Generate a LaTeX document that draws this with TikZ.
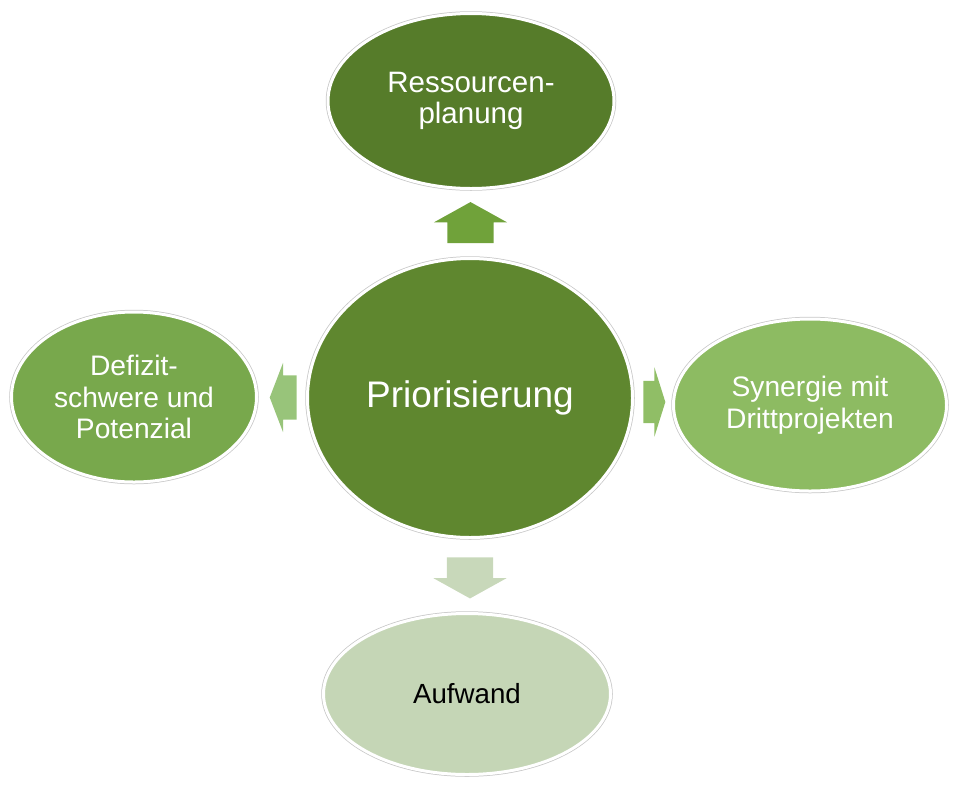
\documentclass[tikz,border=0pt]{standalone}
\usepackage{fontspec}
\setmainfont{Liberation Sans}
\usetikzlibrary{shapes.geometric,shapes.arrows}

\definecolor{coreGreen}{RGB}{95,135,47}
\definecolor{topGreen}{RGB}{86,124,42}
\definecolor{leftGreen}{RGB}{120,168,76}
\definecolor{rightGreen}{RGB}{141,187,98}
\definecolor{lowGreen}{RGB}{197,214,182}
\definecolor{upArrow}{RGB}{112,162,58}
\definecolor{leftArrow}{RGB}{152,196,122}
\definecolor{rightArrow}{RGB}{144,190,102}
\definecolor{downArrow}{RGB}{200,216,186}

\def\txt{\fontsize{29.5}{31.5}\selectfont}
\def\smalltxt{\fontsize{28.2}{31.5}\selectfont}

\begin{document}
\begin{tikzpicture}[x=1pt,y=-1pt]
    \tikzstyle{blob}=[ellipse,inner sep=0pt,align=center,text=white,font=\txt,
        draw=white,line width=3pt,preaction={draw=black!22,line width=4.5pt}]
    \tikzstyle{flow}=[single arrow,draw=none,single arrow head extend=13.5pt]
    \tikzstyle{vflow}=[flow,inner xsep=23pt,inner ysep=0pt,minimum height=41pt,
        single arrow tip angle=122]
    \tikzstyle{hflow}=[flow,inner xsep=0pt,inner ysep=22pt]

    \useasboundingbox (0,0) rectangle (960,785);

    % Draw the centre node.
    \node[blob,fill=coreGreen,minimum width=325pt,minimum height=279pt,
        font=\fontsize{37}{40}\selectfont] (prio) at (470,398) {Priorisierung};

    % Draw the outer nodes.
    \node[blob,fill=topGreen,minimum width=286pt,minimum height=175pt]
        (res) at (471,101) {Ressourcen-\\planung};
    \node[blob,fill=leftGreen,minimum width=245pt,minimum height=170pt,font=\smalltxt]
        (def) at (134,397) {Defizit-\\schwere und\\Potenzial};
    \node[blob,fill=rightGreen,minimum width=273pt,minimum height=172pt,font=\smalltxt]
        (syn) at (810,405) {Synergie mit\\Drittprojekten};
    \node[blob,fill=lowGreen,minimum width=287pt,minimum height=161pt,text=black,
        font=\fontsize{27.7}{31}\selectfont] (auf) at (467,694) {Aufwand};

    % Draw the block arrows between them.
    \node[vflow,fill=upArrow,shape border rotate=90] (a-res) at (470.5,229) {};
    \node[vflow,fill=downArrow,shape border rotate=270] (a-auf) at (470,571.5) {};
    \node[hflow,fill=leftArrow,shape border rotate=180,minimum height=27pt,
        single arrow head extend=12.5pt,
        single arrow tip angle=138] (a-def) at (287.5,397.5) {};
    \node[hflow,fill=rightArrow,minimum height=22pt,inner ysep=21pt,
        single arrow tip angle=145] (a-syn) at (651,402) {};
\end{tikzpicture}
\end{document}
